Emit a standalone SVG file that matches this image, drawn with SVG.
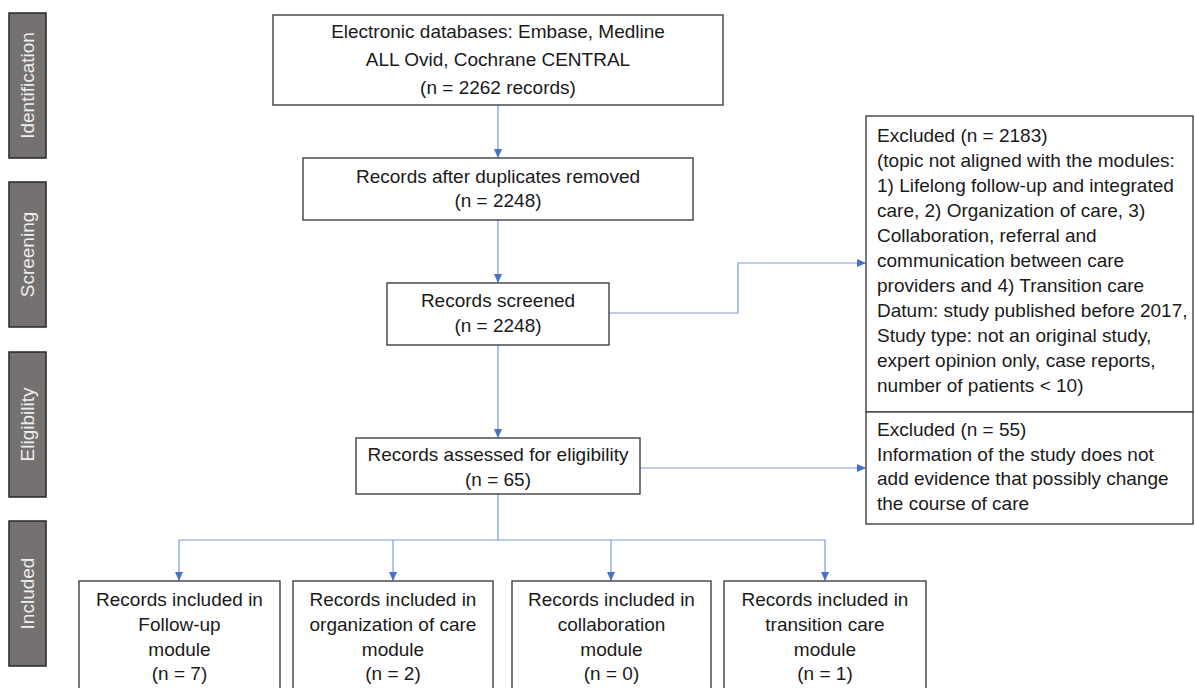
<svg xmlns="http://www.w3.org/2000/svg" width="1195" height="688" viewBox="0 0 1195 688">
<style>
.box{fill:#ffffff;stroke:#404040;stroke-width:1.4}
.side{fill:#767171;stroke:#262626;stroke-width:1.5}
.t{font-family:"Liberation Sans",Arial,sans-serif;font-size:19px;fill:#1a1a1a}
.c{text-anchor:middle}
.st{font-family:"Liberation Sans",Arial,sans-serif;font-size:19px;fill:#eeeeee;text-anchor:middle}
.ln{fill:none;stroke:#7a9cd9;stroke-width:1.2}
</style>
<defs>
<marker id="ah" markerUnits="userSpaceOnUse" markerWidth="10" markerHeight="8" refX="9" refY="4" orient="auto">
<path d="M0,0 L9,4 L0,8 z" fill="#4472C4"/>
</marker>
</defs>
<g id="side-identification"><rect class="side" x="9" y="13" width="37" height="145"/><text class="st" transform="translate(34,85.5) rotate(-90)">Identification</text></g>
<g id="side-screening"><rect class="side" x="9" y="182" width="37" height="145"/><text class="st" transform="translate(34,254.5) rotate(-90)">Screening</text></g>
<g id="side-eligibility"><rect class="side" x="9" y="352" width="37" height="145"/><text class="st" transform="translate(34,424.5) rotate(-90)">Eligibility</text></g>
<g id="side-included"><rect class="side" x="9" y="521" width="37" height="145"/><text class="st" transform="translate(34,593.5) rotate(-90)">Included</text></g>

<g id="connectors">
<line class="ln" x1="498" y1="105" x2="498" y2="158" marker-end="url(#ah)"/>
<line class="ln" x1="498" y1="220" x2="498" y2="283" marker-end="url(#ah)"/>
<line class="ln" x1="498" y1="345" x2="498" y2="438" marker-end="url(#ah)"/>
<polyline class="ln" points="609,313 738,313 738,263 866,263" marker-end="url(#ah)"/>
<line class="ln" x1="640" y1="468" x2="866" y2="468" marker-end="url(#ah)"/>
<polyline class="ln" points="498,494 498,540 179,540 179,581" marker-end="url(#ah)"/>
<polyline class="ln" points="393,540 393,581" marker-end="url(#ah)"/>
<polyline class="ln" points="498,540 825,540 825,581" marker-end="url(#ah)"/>
<polyline class="ln" points="611,540 611,581" marker-end="url(#ah)"/>
</g>

<g id="n-databases"><rect class="box" x="273" y="15" width="450" height="90"/>
<text class="t c" x="498" y="38">Electronic databases: Embase, Medline</text>
<text class="t c" x="498" y="66">ALL Ovid, Cochrane CENTRAL</text>
<text class="t c" x="498" y="94">(n = 2262 records)</text></g>

<g id="n-duplicates"><rect class="box" x="303" y="158" width="390" height="62"/>
<text class="t c" x="498" y="183">Records after duplicates removed</text>
<text class="t c" x="498" y="207">(n = 2248)</text></g>

<g id="n-screened"><rect class="box" x="387" y="283" width="222" height="62"/>
<text class="t c" x="498" y="307">Records screened</text>
<text class="t c" x="498" y="332">(n = 2248)</text></g>

<g id="n-assessed"><rect class="box" x="356" y="438" width="284" height="56"/>
<text class="t c" x="498" y="461">Records assessed for eligibility</text>
<text class="t c" x="498" y="486">(n = 65)</text></g>

<g id="n-excluded1"><rect class="box" x="866" y="116" width="327" height="296"/>
<text class="t" x="877" y="142">Excluded (n = 2183)</text>
<text class="t" x="877" y="167">(topic not aligned with the modules:</text>
<text class="t" x="877" y="192">1) Lifelong follow-up and integrated</text>
<text class="t" x="877" y="217">care, 2) Organization of care, 3)</text>
<text class="t" x="877" y="242">Collaboration, referral and</text>
<text class="t" x="877" y="267">communication between care</text>
<text class="t" x="877" y="292">providers and 4) Transition care</text>
<text class="t" x="877" y="317">Datum: study published before 2017,</text>
<text class="t" x="877" y="342">Study type: not an original study,</text>
<text class="t" x="877" y="367">expert opinion only, case reports,</text>
<text class="t" x="877" y="392">number of patients &lt; 10)</text></g>

<g id="n-excluded2"><rect class="box" x="866" y="412" width="327" height="112"/>
<text class="t" x="877" y="436">Excluded (n = 55)</text>
<text class="t" x="877" y="461">Information of the study does not</text>
<text class="t" x="877" y="485">add evidence that possibly change</text>
<text class="t" x="877" y="510">the course of care</text></g>

<g id="n-followup"><rect class="box" x="79" y="581" width="201" height="112"/>
<text class="t c" x="179.5" y="606">Records included in</text>
<text class="t c" x="179.5" y="631">Follow-up</text>
<text class="t c" x="179.5" y="656">module</text>
<text class="t c" x="179.5" y="680">(n = 7)</text></g>

<g id="n-organization"><rect class="box" x="293" y="581" width="200" height="112"/>
<text class="t c" x="393" y="606">Records included in</text>
<text class="t c" x="393" y="631">organization of care</text>
<text class="t c" x="393" y="656">module</text>
<text class="t c" x="393" y="680">(n = 2)</text></g>

<g id="n-collaboration"><rect class="box" x="512" y="581" width="199" height="112"/>
<text class="t c" x="611.5" y="606">Records included in</text>
<text class="t c" x="611.5" y="631">collaboration</text>
<text class="t c" x="611.5" y="656">module</text>
<text class="t c" x="611.5" y="680">(n = 0)</text></g>

<g id="n-transition"><rect class="box" x="724" y="581" width="202" height="112"/>
<text class="t c" x="825" y="606">Records included in</text>
<text class="t c" x="825" y="631">transition care</text>
<text class="t c" x="825" y="656">module</text>
<text class="t c" x="825" y="680">(n = 1)</text></g>
</svg>
